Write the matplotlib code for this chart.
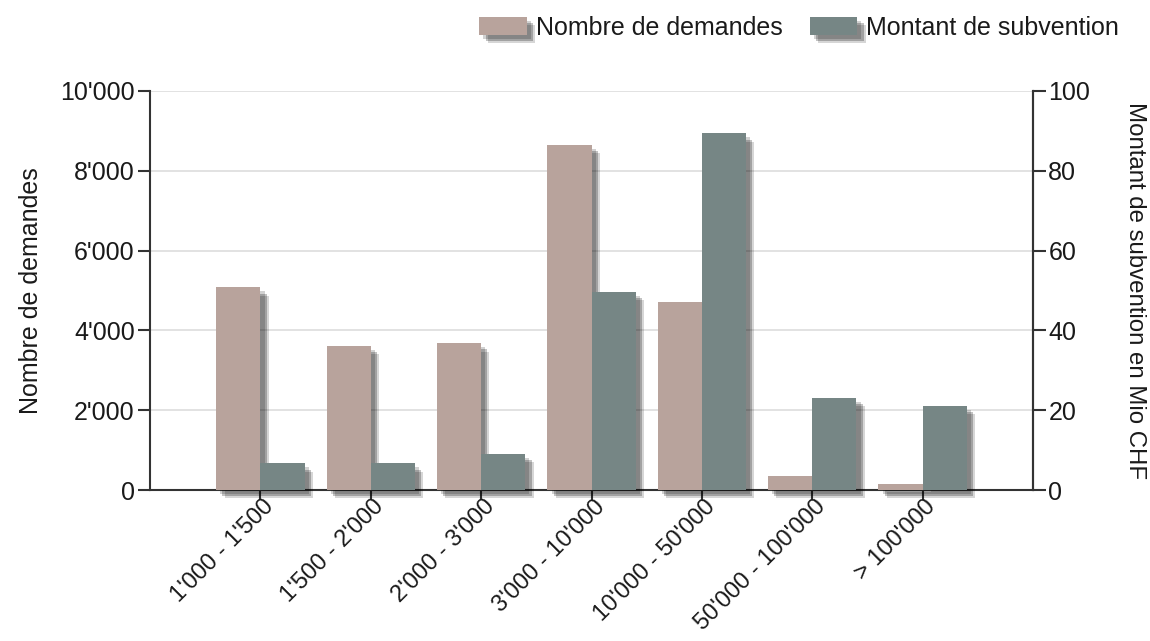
import matplotlib
matplotlib.use("Agg")
import matplotlib.pyplot as plt
import matplotlib.patheffects as pe
import matplotlib.transforms as mtransforms
from matplotlib.patches import Patch
from matplotlib.ticker import FuncFormatter
import numpy as np

plt.rcParams['font.family'] = ['Liberation Sans', 'DejaVu Sans']

categories = ["1'000 - 1'500", "1'500 - 2'000", "2'000 - 3'000", "3'000 - 10'000",
              "10'000 - 50'000", "50'000 - 100'000", "> 100'000"]
nombre = [5080, 3620, 3680, 8650, 4720, 360, 160]          # Nombre de demandes
montant = [6.7, 6.7, 9.0, 49.7, 89.4, 23.1, 21.1]          # Mio CHF

pink = '#b8a39c'
teal = '#768685'
axis_col = '#333333'
text_col = '#1a1a1a'
fs = 18

def shadow():
    return [pe.withSimplePatchShadow(offset=(3, -3), shadow_rgbFace='black', alpha=0.18),
            pe.withSimplePatchShadow(offset=(4.5, -4.5), shadow_rgbFace='black', alpha=0.24),
            pe.withSimplePatchShadow(offset=(6, -6), shadow_rgbFace='black', alpha=0.16),
            pe.Normal()]

fig = plt.figure(figsize=(11.5, 6.41), dpi=100)
ax = fig.add_axes([150/1150, 1-490/641, 883/1150, 399/641])
ax2 = ax.twinx()

x = np.arange(1, len(categories) + 1)
w = 0.4

ax.set_zorder(1)
ax.patch.set_visible(False)
ax2.set_zorder(2)

ax.set_ylim(0, 10000)
ax2.set_ylim(0, 100)
ax.set_xlim(0, 8)

ax.yaxis.grid(True, color='#dddddd', linewidth=1.2)
ax.set_axisbelow(True)

# nombre scaled to the right axis (10'000 <-> 100)
ax2.bar(x - w/2, [v / 100 for v in nombre], width=w, color=pink, clip_on=False,
        path_effects=shadow())
ax2.bar(x + w/2, montant, width=w, color=teal, clip_on=False,
        path_effects=shadow())

ax.set_yticks(range(0, 10001, 2000))
ax.yaxis.set_major_formatter(FuncFormatter(lambda v, p: f"{int(v):,}".replace(',', "'")))
ax2.set_yticks(range(0, 101, 20))

ax.set_xticks(x)
ax.set_xticklabels(categories, rotation=45, ha='right', rotation_mode='anchor')

for a in (ax, ax2):
    a.spines['top'].set_visible(False)
    for s in ('left', 'right', 'bottom'):
        a.spines[s].set_color(axis_col)
        a.spines[s].set_linewidth(1.5)
    a.tick_params(axis='both', labelsize=fs, colors=axis_col, labelcolor=text_col,
                  length=9, width=1.5, pad=2)
ax.tick_params(axis='x', length=7, pad=0, labelsize=17)
ax2.spines['left'].set_visible(False)
ax2.spines['bottom'].set_visible(False)

offset = mtransforms.ScaledTranslation(2/100, 4/100, fig.dpi_scale_trans)
for lbl in ax.get_xticklabels():
    lbl.set_transform(lbl.get_transform() + offset)

ax.set_ylabel('Nombre de demandes', fontsize=fs, color=text_col, labelpad=12)
ax2.set_ylabel('Montant de subvention en Mio CHF', fontsize=17.3, color=text_col,
               rotation=270, labelpad=40)

handles = [Patch(facecolor=pink, path_effects=shadow(), label='Nombre de demandes'),
           Patch(facecolor=teal, path_effects=shadow(), label='Montant de subvention')]
fig.legend(handles=handles, loc='center right', bbox_to_anchor=(0.973, 0.957), ncol=2,
           frameon=False, fontsize=fs, handlelength=1.9, handleheight=0.75,
           handletextpad=0.35, columnspacing=1.1, borderpad=0, borderaxespad=0,
           labelcolor=text_col)

fig.savefig('out.png', dpi=100)
